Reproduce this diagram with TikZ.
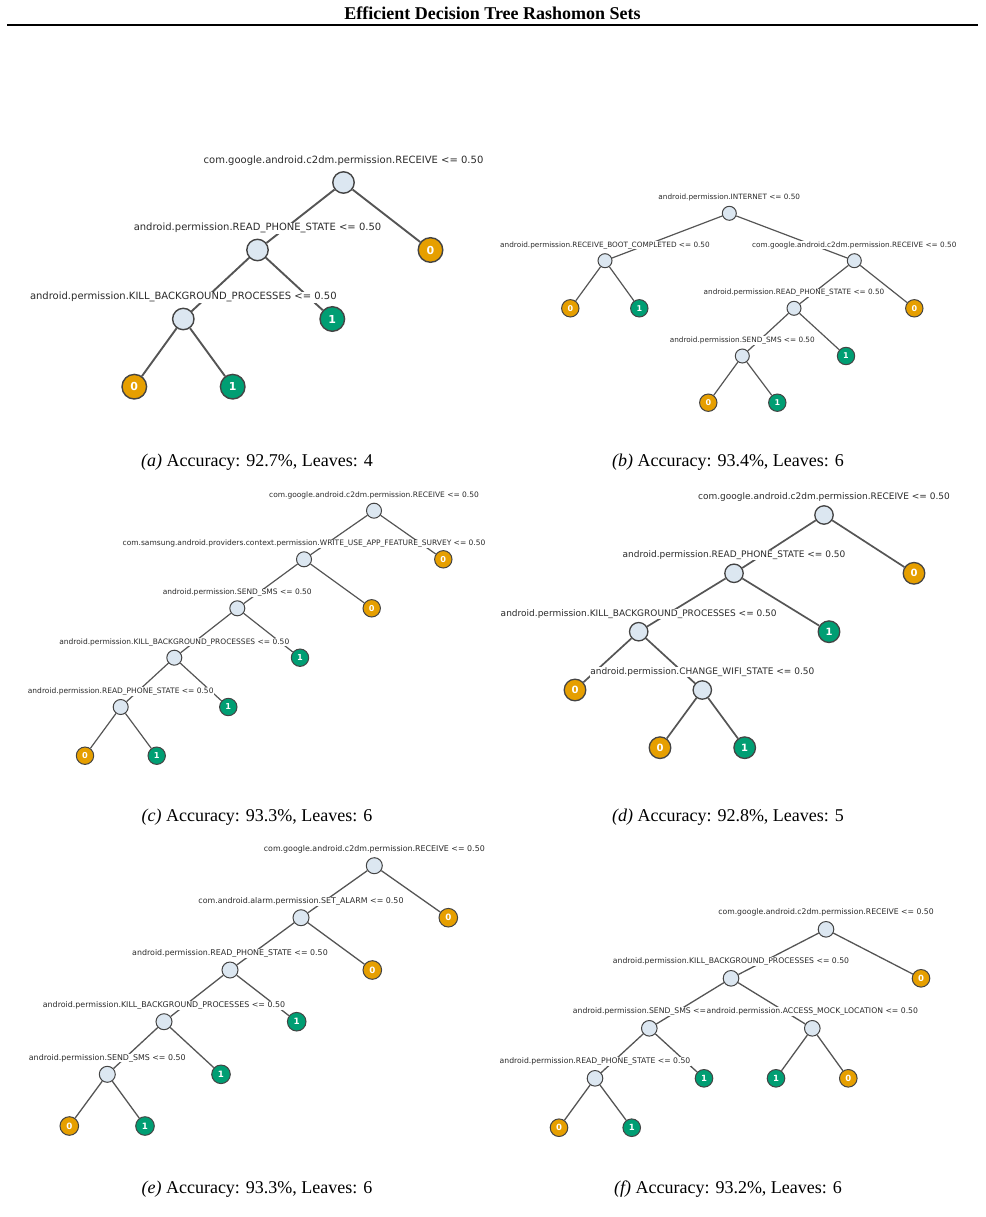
\documentclass[tikz,border=0pt]{standalone}
\usepackage{fontspec}
\setmainfont{Liberation Serif}
\newfontfamily\dvsans{DejaVu Sans}
\usepackage{xcolor}
\usetikzlibrary{positioning}

\definecolor{splitfill}{HTML}{DCE7F1}
\definecolor{leaforange}{HTML}{E69F00}
\definecolor{leafgreen}{HTML}{009E73}
\definecolor{ringgray}{HTML}{444444}
\definecolor{edgegray}{HTML}{555555}
\definecolor{condgray}{HTML}{2B2B2B}

\tikzset{
  split/.style={circle,draw=ringgray,fill=splitfill,inner sep=0pt},
  leaf/.style={circle,draw=ringgray,text=white,inner sep=0pt},
  leafzero/.style={leaf,fill=leaforange},
  leafone/.style={leaf,fill=leafgreen},
  cond/.style={fill=white,inner sep=0.4pt,text=condgray},
  branch/.style={draw=edgegray},
  subcap/.style={font=\fontsize{18}{21}\selectfont}
}

\begin{document}
\begin{tikzpicture}[x=1pt,y=-1pt]
\useasboundingbox (0,0) rectangle (985,1217);

\node[font=\bfseries\fontsize{18}{21}\selectfont] (title) at (492.5,13.5) {Efficient Decision Tree Rashomon Sets};
\draw[line width=2pt] (7,25.5) -- (978,25.5);

% (a)
\begin{scope}[
  split/.append style={minimum size=21.4pt,line width=1.4pt},
  leaf/.append style={minimum size=24.6pt,line width=1.4pt,font=\dvsans\bfseries\fontsize{11}{13}\selectfont},
  cond/.append style={font=\dvsans\fontsize{10}{12}\selectfont},
  branch/.append style={line width=1.9pt}]
\node[split] (a1) at (343.5,182.5) {};
\node[split] (a2) at (257.5,250) {};
\node[leafzero] (a3) at (430.5,250) {0};
\node[split] (a4) at (183.3,319) {};
\node[leafone] (a5) at (332.3,319) {1};
\node[leafzero] (a6) at (134.3,386.7) {0};
\node[leafone] (a7) at (232.7,386.7) {1};
\draw[branch] (a1) -- (a2) (a1) -- (a3) (a2) -- (a4) (a2) -- (a5) (a4) -- (a6) (a4) -- (a7);
\node[cond,above=4.8pt of a1] (a1t) {com.google.android.c2dm.permission.RECEIVE <= 0.50};
\node[cond,above=4.8pt of a2] (a2t) {android.permission.READ\_PHONE\_STATE <= 0.50};
\node[cond,above=4.8pt of a4] (a4t) {android.permission.KILL\_BACKGROUND\_PROCESSES <= 0.50};
\end{scope}
\node[subcap] (capa) at (257,462.5) {\textit{(a)} Accuracy: 92.7\%, Leaves: 4};

% (b)
\begin{scope}[
  split/.append style={minimum size=14pt,line width=1pt},
  leaf/.append style={minimum size=17.4pt,line width=1pt,font=\dvsans\bfseries\fontsize{8}{10}\selectfont},
  cond/.append style={font=\dvsans\fontsize{7.3}{9}\selectfont},
  branch/.append style={line width=1.2pt}]
\node[split] (b1) at (729.3,213.3) {};
\node[split] (b2) at (605,260.7) {};
\node[split] (b3) at (854.3,260.7) {};
\node[leafzero] (b4) at (570.3,308.3) {0};
\node[leafone] (b5) at (639.3,308.3) {1};
\node[split] (b6) at (794,308.3) {};
\node[leafzero] (b7) at (914.3,308.3) {0};
\node[split] (b8) at (742.3,356) {};
\node[leafone] (b9) at (846,356) {1};
\node[leafzero] (b10) at (708.3,402.7) {0};
\node[leafone] (b11) at (777.3,402.7) {1};
\draw[branch] (b1) -- (b2) (b1) -- (b3) (b2) -- (b4) (b2) -- (b5) (b3) -- (b6) (b3) -- (b7)
  (b6) -- (b8) (b6) -- (b9) (b8) -- (b10) (b8) -- (b11);
\node[cond,above=3.8pt of b1] (b1t) {android.permission.INTERNET <= 0.50};
\node[cond,above=3.8pt of b2] (b2t) {android.permission.RECEIVE\_BOOT\_COMPLETED <= 0.50};
\node[cond,above=3.8pt of b3] (b3t) {com.google.android.c2dm.permission.RECEIVE <= 0.50};
\node[cond,above=3.8pt of b6] (b6t) {android.permission.READ\_PHONE\_STATE <= 0.50};
\node[cond,above=3.8pt of b8] (b8t) {android.permission.SEND\_SMS <= 0.50};
\end{scope}
\node[subcap] (capb) at (728,462.5) {\textit{(b)} Accuracy: 93.4\%, Leaves: 6};

% (c)
\begin{scope}[
  split/.append style={minimum size=15pt,line width=1pt},
  leaf/.append style={minimum size=17.4pt,line width=1pt,font=\dvsans\bfseries\fontsize{8.2}{10}\selectfont},
  cond/.append style={font=\dvsans\fontsize{7.5}{9}\selectfont},
  branch/.append style={line width=1.2pt}]
\node[split] (c1) at (374,510.7) {};
\node[split] (c2) at (304,559.3) {};
\node[leafzero] (c3) at (443.3,559.3) {0};
\node[split] (c4) at (237.3,608.3) {};
\node[leafzero] (c5) at (371.7,608.3) {0};
\node[split] (c6) at (174.3,657.7) {};
\node[leafone] (c7) at (300,657.7) {1};
\node[split] (c8) at (120.7,707) {};
\node[leafone] (c9) at (228.3,707) {1};
\node[leafzero] (c10) at (85,755.7) {0};
\node[leafone] (c11) at (156.7,755.7) {1};
\draw[branch] (c1) -- (c2) (c1) -- (c3) (c2) -- (c4) (c2) -- (c5) (c4) -- (c6) (c4) -- (c7)
  (c6) -- (c8) (c6) -- (c9) (c8) -- (c10) (c8) -- (c11);
\node[cond,above=3.3pt of c1] (c1t) {com.google.android.c2dm.permission.RECEIVE <= 0.50};
\node[cond,above=3.3pt of c2] (c2t) {com.samsung.android.providers.context.permission.WRITE\_USE\_APP\_FEATURE\_SURVEY <= 0.50};
\node[cond,above=3.3pt of c4] (c4t) {android.permission.SEND\_SMS <= 0.50};
\node[cond,above=3.3pt of c6] (c6t) {android.permission.KILL\_BACKGROUND\_PROCESSES <= 0.50};
\node[cond,above=3.3pt of c8] (c8t) {android.permission.READ\_PHONE\_STATE <= 0.50};
\end{scope}
\node[subcap] (capc) at (257,817.5) {\textit{(c)} Accuracy: 93.3\%, Leaves: 6};

% (d)
\begin{scope}[
  split/.append style={minimum size=18.4pt,line width=1.3pt},
  leaf/.append style={minimum size=21.6pt,line width=1.3pt,font=\dvsans\bfseries\fontsize{10}{12}\selectfont},
  cond/.append style={font=\dvsans\fontsize{9}{11}\selectfont},
  branch/.append style={line width=1.7pt}]
\node[split] (d1) at (824,515) {};
\node[split] (d2) at (734,573.3) {};
\node[leafzero] (d3) at (914,573.3) {0};
\node[split] (d4) at (638.7,631.7) {};
\node[leafone] (d5) at (829,631.7) {1};
\node[leafzero] (d6) at (575,690) {0};
\node[split] (d7) at (702.3,690) {};
\node[leafzero] (d8) at (660,747.7) {0};
\node[leafone] (d9) at (744.7,747.7) {1};
\draw[branch] (d1) -- (d2) (d1) -- (d3) (d2) -- (d4) (d2) -- (d5) (d4) -- (d6) (d4) -- (d7)
  (d7) -- (d8) (d7) -- (d9);
\node[cond,above=3pt of d1] (d1t) {com.google.android.c2dm.permission.RECEIVE <= 0.50};
\node[cond,above=3pt of d2] (d2t) {android.permission.READ\_PHONE\_STATE <= 0.50};
\node[cond,above=3pt of d4] (d4t) {android.permission.KILL\_BACKGROUND\_PROCESSES <= 0.50};
\node[cond,above=3pt of d7] (d7t) {android.permission.CHANGE\_WIFI\_STATE <= 0.50};
\end{scope}
\node[subcap] (capd) at (728,817.5) {\textit{(d)} Accuracy: 92.8\%, Leaves: 5};

% (e)
\begin{scope}[
  split/.append style={minimum size=16pt,line width=1pt},
  leaf/.append style={minimum size=18.6pt,line width=1pt,font=\dvsans\bfseries\fontsize{8.7}{10}\selectfont},
  cond/.append style={font=\dvsans\fontsize{7.9}{9}\selectfont},
  branch/.append style={line width=1.3pt}]
\node[split] (e1) at (374.3,865.7) {};
\node[split] (e2) at (301,917.7) {};
\node[leafzero] (e3) at (448.3,917.7) {0};
\node[split] (e4) at (230,970) {};
\node[leafzero] (e5) at (372.3,970) {0};
\node[split] (e6) at (164,1021.7) {};
\node[leafone] (e7) at (296.7,1021.7) {1};
\node[split] (e8) at (107.3,1074.3) {};
\node[leafone] (e9) at (221,1074.3) {1};
\node[leafzero] (e10) at (69.3,1126) {0};
\node[leafone] (e11) at (145,1126) {1};
\draw[branch] (e1) -- (e2) (e1) -- (e3) (e2) -- (e4) (e2) -- (e5) (e4) -- (e6) (e4) -- (e7)
  (e6) -- (e8) (e6) -- (e9) (e8) -- (e10) (e8) -- (e11);
\node[cond,above=3.3pt of e1] (e1t) {com.google.android.c2dm.permission.RECEIVE <= 0.50};
\node[cond,above=3.3pt of e2] (e2t) {com.android.alarm.permission.SET\_ALARM <= 0.50};
\node[cond,above=3.3pt of e4] (e4t) {android.permission.READ\_PHONE\_STATE <= 0.50};
\node[cond,above=3.3pt of e6] (e6t) {android.permission.KILL\_BACKGROUND\_PROCESSES <= 0.50};
\node[cond,above=3.3pt of e8] (e8t) {android.permission.SEND\_SMS <= 0.50};
\end{scope}
\node[subcap] (cape) at (257,1189.5) {\textit{(e)} Accuracy: 93.3\%, Leaves: 6};

% (f)
\begin{scope}[
  split/.append style={minimum size=15.6pt,line width=1pt},
  leaf/.append style={minimum size=17.6pt,line width=1pt,font=\dvsans\bfseries\fontsize{8.5}{10}\selectfont},
  cond/.append style={font=\dvsans\fontsize{7.7}{9}\selectfont},
  branch/.append style={line width=1.3pt}]
\node[split] (f1) at (826,929.3) {};
\node[split] (f2) at (731,978.3) {};
\node[leafzero] (f3) at (921,978.3) {0};
\node[split] (f4) at (649.3,1028.3) {};
\node[split] (f5) at (812.3,1028.3) {};
\node[split] (f6) at (595,1078.3) {};
\node[leafone] (f7) at (704,1078.3) {1};
\node[leafone] (f8) at (776,1078.3) {1};
\node[leafzero] (f9) at (848.3,1078.3) {0};
\node[leafzero] (f10) at (559,1127.7) {0};
\node[leafone] (f11) at (631.7,1127.7) {1};
\draw[branch] (f1) -- (f2) (f1) -- (f3) (f2) -- (f4) (f2) -- (f5) (f4) -- (f6) (f4) -- (f7)
  (f5) -- (f8) (f5) -- (f9) (f6) -- (f10) (f6) -- (f11);
\node[cond,above=4.3pt of f1] (f1t) {com.google.android.c2dm.permission.RECEIVE <= 0.50};
\node[cond,above=4.3pt of f2] (f2t) {android.permission.KILL\_BACKGROUND\_PROCESSES <= 0.50};
\node[cond,above=4.3pt of f4] (f4t) {android.permission.SEND\_SMS <= 0.50};
\node[cond,above=4.3pt of f5] (f5t) {android.permission.ACCESS\_MOCK\_LOCATION <= 0.50};
\node[cond,above=4.3pt of f6] (f6t) {android.permission.READ\_PHONE\_STATE <= 0.50};
\end{scope}
\node[subcap] (capf) at (728,1189.5) {\textit{(f)} Accuracy: 93.2\%, Leaves: 6};

\end{tikzpicture}
\end{document}
